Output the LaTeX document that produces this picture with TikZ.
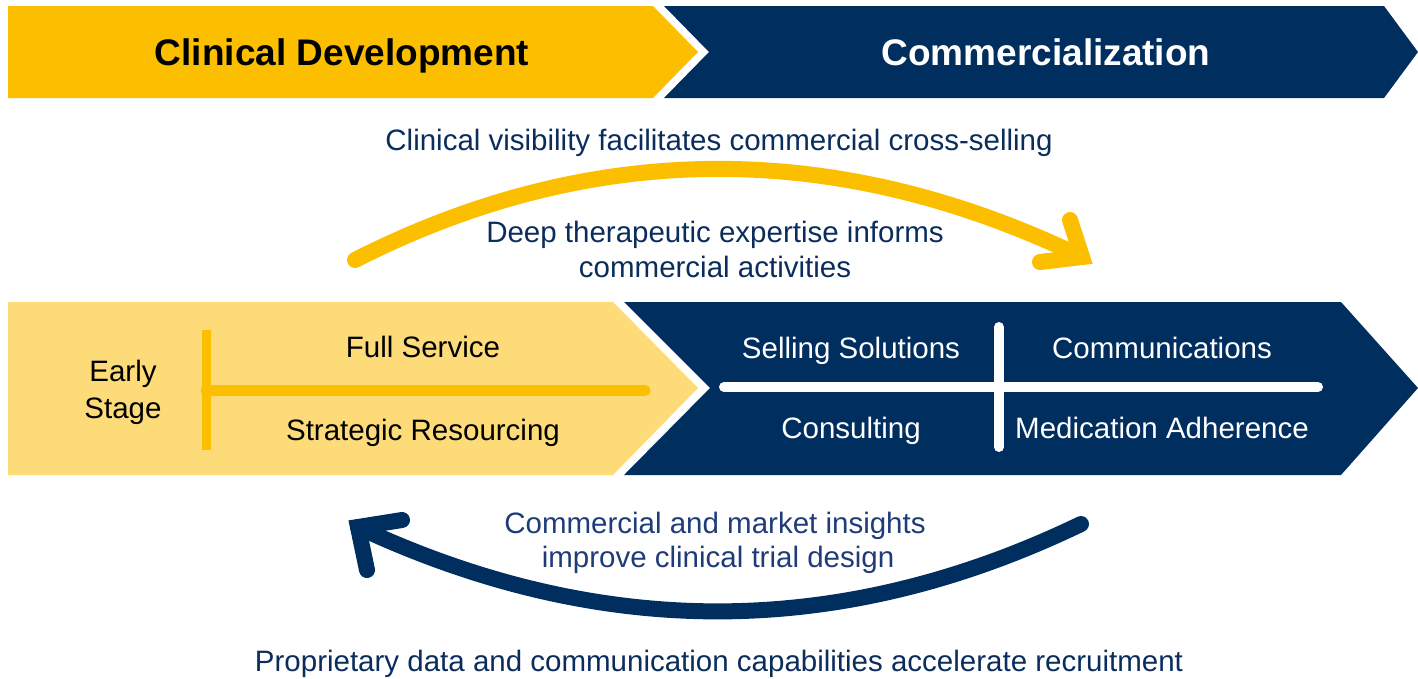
\documentclass[tikz,border=0pt]{standalone}
\usepackage{fontspec}
\setmainfont{Liberation Sans}
\definecolor{cyel}{HTML}{FBBF00}
\definecolor{clyel}{HTML}{FCDB78}
\definecolor{cnavy}{HTML}{002F5F}
\definecolor{ctext}{HTML}{0B2D5C}
\definecolor{ctextb}{HTML}{1F3C78}
\begin{document}
\begin{tikzpicture}[x=1pt,y=-1pt,
  title/.style={font=\fontsize{37}{44}\selectfont\bfseries, anchor=base},
  body/.style={font=\fontsize{29.5}{35}\selectfont, anchor=base},
  arcline/.style={line width=16pt, line cap=round, line join=miter},
]
\useasboundingbox (0,0) rectangle (1418,678);
% top banners
\fill[cyel] (8,6) -- (653,6) -- (698,52) -- (653,98) -- (8,98) -- cycle;
\fill[cnavy] (664,6) -- (1384,6) -- (1418,52) -- (1384,98) -- (664,98) -- (709,52) -- cycle;
\node[title, text=black] (tcd) at (342,65) {Clinical Development};
\node[title, text=white] (tcom) at (1046,65) {Commercialization};
% middle band
\fill[clyel] (8,302) -- (613,302) -- (698,388) -- (613,475) -- (8,475) -- cycle;
\fill[cnavy] (624,302) -- (1341,302) -- (1418,388) -- (1341,475) -- (624,475) -- (710,388) -- cycle;
% yellow T
\coordinate (vt) at (206,330);
\coordinate (vb) at (206,450);
\coordinate (hl) at (206,390.5);
\coordinate (hr) at (645,390.5);
\draw[cyel, line width=9pt] (vt) -- (vb);
\draw[cyel, line width=11pt, line cap=round] (hl) -- (hr);
% white cross
\coordinate (wl) at (724,387);
\coordinate (wr) at (1318,387);
\coordinate (wt) at (999,327);
\coordinate (wb) at (999,447);
\draw[white, line width=10pt, line cap=round] (wl) -- (wr);
\draw[white, line width=10pt, line cap=round] (wt) -- (wb);
% middle texts
\node[body] (early) at (123,381) {Early};
\node[body] (stage) at (123,418) {Stage};
\node[body] (full) at (423,357) {Full Service};
\node[body] (strat) at (423,440) {Strategic Resourcing};
\node[body, text=white] (sell) at (851,358) {Selling Solutions};
\node[body, text=white] (comm) at (1162,358) {Communications};
\node[body, text=white] (cons) at (851,438) {Consulting};
\node[body, text=white] (med) at (1162,438) {Medication Adherence};
% top annotations
\node[body, text=ctext] (vis) at (719,150) {Clinical visibility facilitates commercial cross-selling};
\node[body, text=ctext] (deep1) at (715,242) {Deep therapeutic expertise informs};
\node[body, text=ctext] (deep2) at (715,277) {commercial activities};
% yellow arc arrow
\coordinate (ya) at (355,260);
\coordinate (yb) at (1082,257);
\coordinate (yu) at (1070,220);
\coordinate (yl) at (1040,262);
\draw[arcline, cyel] (ya) .. controls (595,138) and (840,140) .. (yb);
\draw[arcline, cyel] (yu) -- (yb) -- (yl);
% bottom annotations
\node[body, text=ctextb] (ins1) at (715,533) {Commercial and market insights};
\node[body, text=ctextb] (ins2) at (718,567) {improve clinical trial design};
\node[body, text=ctext] (prop) at (719,671) {Proprietary data and communication capabilities accelerate recruitment};
% navy arc arrow
\coordinate (na) at (1081,524);
\coordinate (nb) at (358,527);
\coordinate (nu) at (402,520);
\coordinate (nl) at (367,570);
\draw[arcline, cnavy] (na) .. controls (840,640) and (600,640) .. (nb);
\draw[arcline, cnavy] (nu) -- (nb) -- (nl);
\end{tikzpicture}
\end{document}
